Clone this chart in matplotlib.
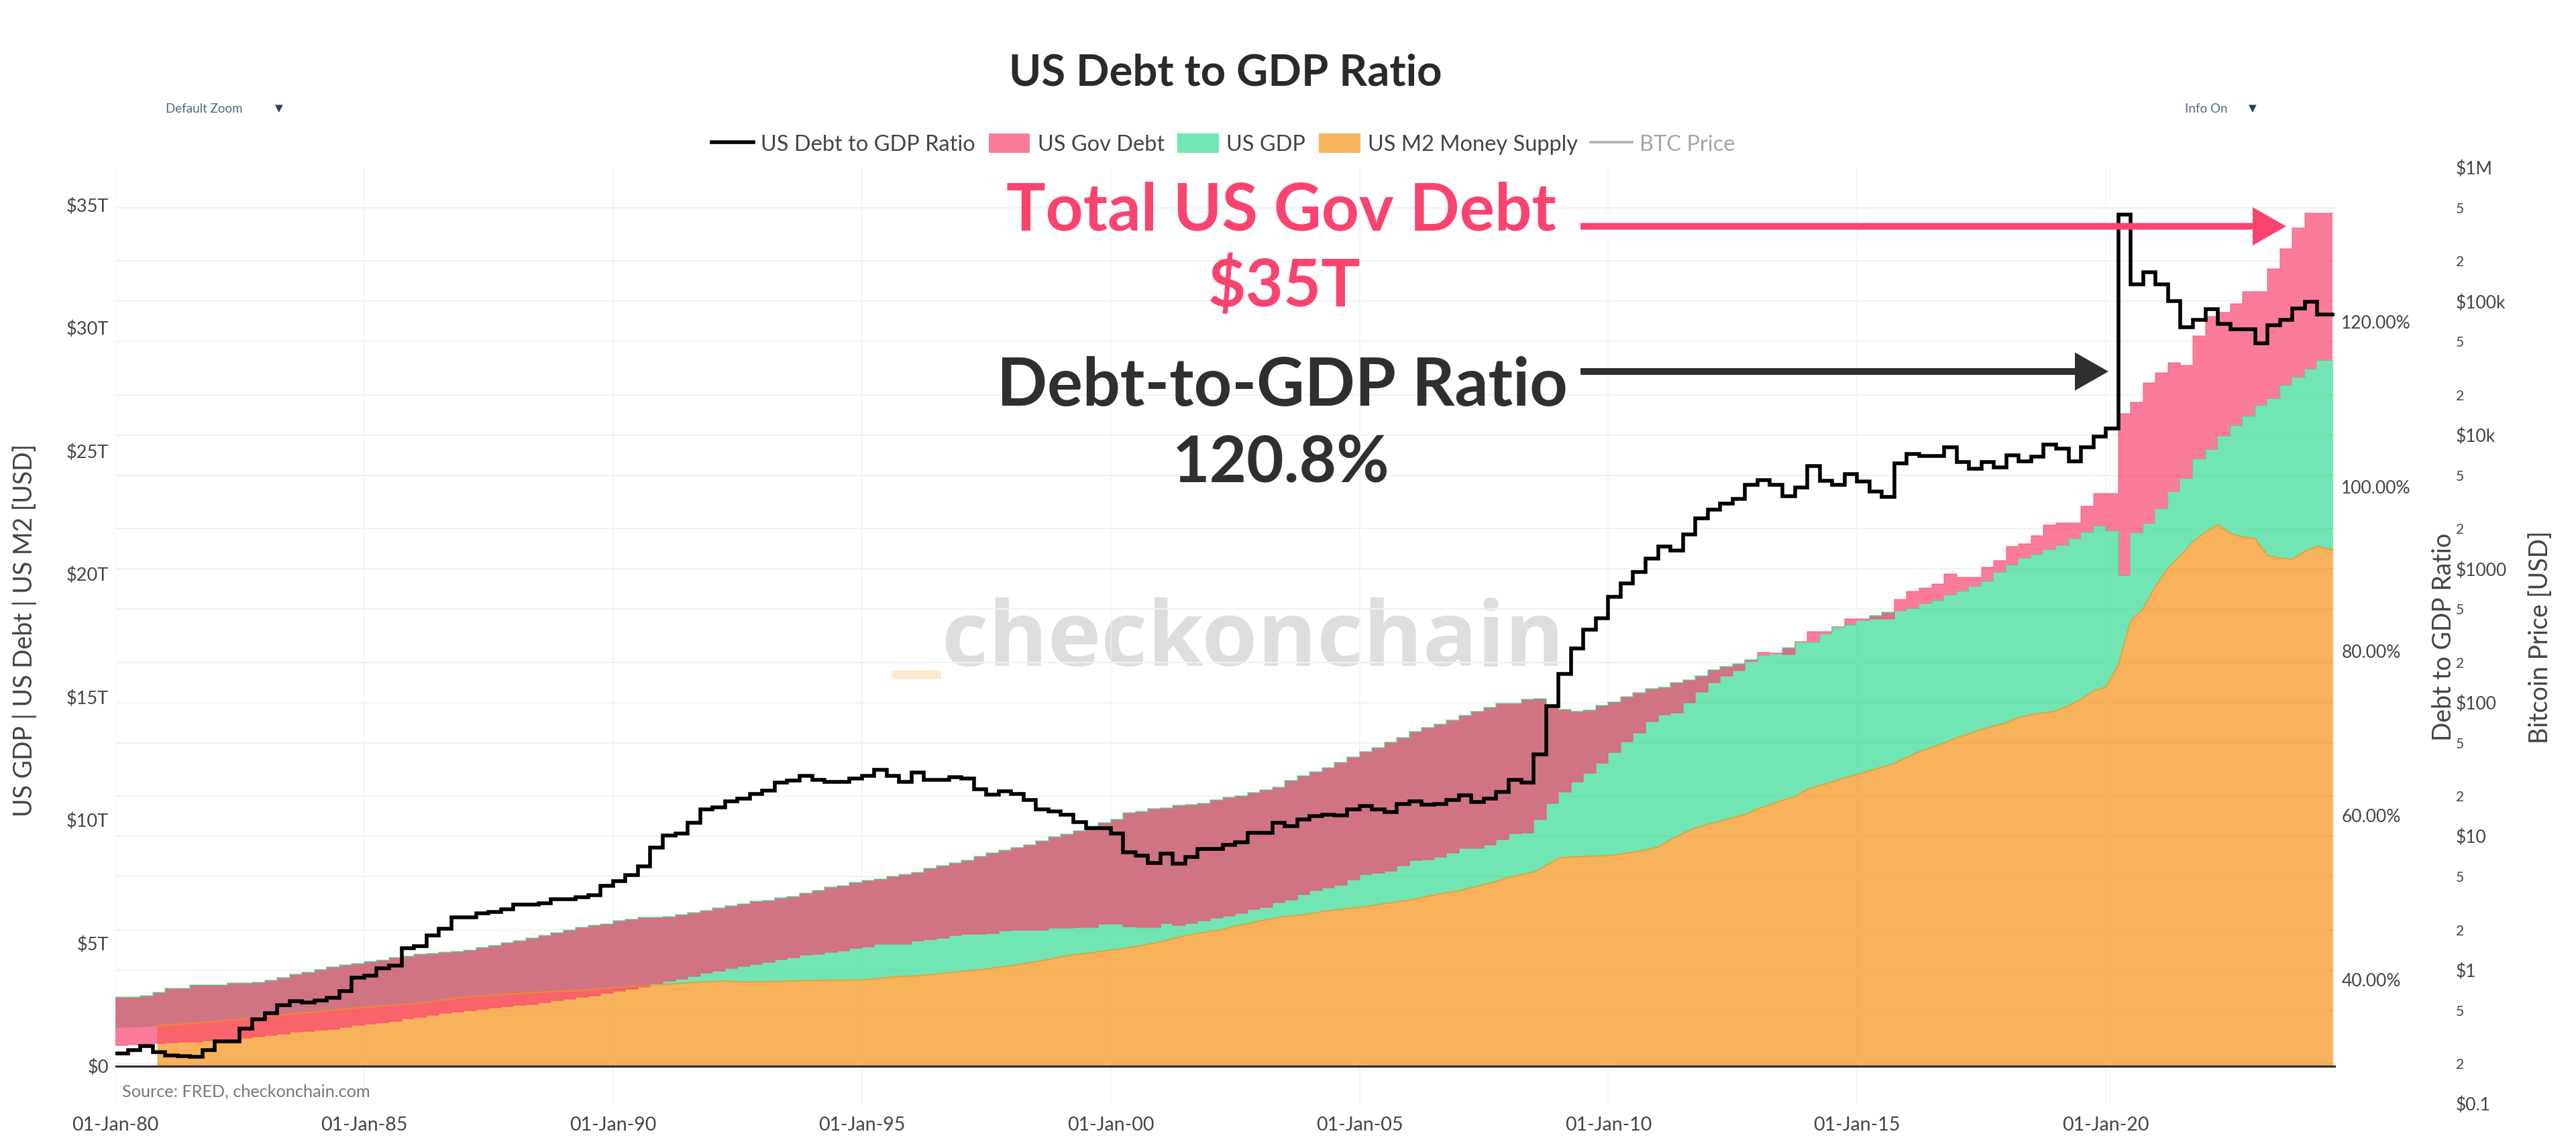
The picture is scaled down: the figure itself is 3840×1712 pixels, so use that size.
import numpy as np
import matplotlib
matplotlib.use("Agg")
import matplotlib.pyplot as plt
from matplotlib.patches import FancyArrow, Patch, Rectangle
from matplotlib.lines import Line2D

plt.rcParams['font.family'] = ['Lato', 'DejaVu Sans']

# ---- data: quarterly from Q1 1980 to Q2 2024 -----------------------------
ratio_pct = [
    31.0,31.4,31.9,31.2, 30.8,30.7,30.65,31.4, 32.5,32.5,34.0,35.2, 35.9,36.9,37.4,37.2,
    37.5,37.8,38.6,40.2, 40.5,41.4,41.7,43.8, 44.1,45.4,46.2,47.6, 47.6,48.1,48.2,48.6,
    49.1,49.1,49.3,49.8, 49.8,50.0,50.3,51.4, 52.0,52.7,53.8,56.1, 57.5,57.8,59.1,60.7,
    61.0,61.7,62.0,62.6, 63.0,64.0,64.2,64.8, 64.3,64.1,64.1,64.5, 64.8,65.5,64.8,64.1,
    65.2,64.3,64.3,64.6, 64.5,63.2,62.5,62.9, 62.6,61.9,60.7,60.5, 60.1,59.2,58.4,58.4,
    57.8,55.5,55.1,54.2, 55.3,54.1,54.9,55.9, 55.9,56.4,56.7,57.9, 57.9,59.1,58.7,59.5,
    59.9,60.1,60.0,60.7, 61.1,60.7,60.4,61.4, 61.7,61.3,61.4,61.9, 62.4,61.6,62.0,62.8,
    64.3,64.0,67.4,73.3, 77.2,80.3,82.6,84.0, 86.6,88.2,89.6,91.2, 92.7,92.2,94.2,96.1,
    97.2,97.9,98.5,100.2, 100.8,100.2,98.8,99.9, 102.5,100.7,100.2,101.5, 100.6,99.4,98.7,102.8,
    104.0,103.7,103.7,104.8, 103.0,102.2,103.0,102.3, 103.8,103.1,103.6,105.1, 104.6,103.1,104.8,106.1,
    107.1,133.1,124.6,126.1, 124.6,122.6,119.4,120.3, 121.6,119.8,119.1,119.1, 117.4,119.6,120.3,121.7,
    122.5,120.9]
gov_debt_t = [
    0.84,0.87,0.89,0.92, 0.95,0.97,0.99,1.04, 1.06,1.09,1.14,1.20, 1.24,1.32,1.38,1.41,
    1.46,1.51,1.57,1.65, 1.71,1.77,1.82,1.94, 1.98,2.06,2.14,2.22, 2.25,2.32,2.36,2.43,
    2.49,2.52,2.60,2.66, 2.73,2.80,2.86,2.97, 3.05,3.13,3.22,3.36, 3.45,3.54,3.66,3.80,
    3.88,3.98,4.05,4.15, 4.22,4.32,4.42,4.52, 4.55,4.63,4.68,4.79, 4.86,4.95,4.96,4.97,
    5.10,5.15,5.21,5.31, 5.38,5.38,5.40,5.49, 5.52,5.52,5.52,5.60, 5.62,5.63,5.65,5.77,
    5.77,5.68,5.65,5.65, 5.79,5.72,5.79,5.92, 6.01,6.11,6.22,6.38, 6.45,6.66,6.77,6.98,
    7.13,7.25,7.36,7.58, 7.79,7.85,7.93,8.16, 8.36,8.39,8.50,8.67, 8.86,8.86,8.99,9.22,
    9.45,9.49,10.04,10.69, 11.13,11.54,11.92,12.31, 12.76,13.19,13.55,14.00, 14.28,14.36,14.78,15.21,
    15.59,15.86,16.07,16.46, 16.80,16.78,16.74,17.26, 17.66,17.66,17.85,18.18, 18.18,18.17,18.17,18.96,
    19.29,19.43,19.60,20.01, 19.87,19.87,20.27,20.53, 21.12,21.23,21.55,22.00, 22.07,22.07,22.75,23.27,
    23.27,26.51,26.98,27.77, 28.17,28.58,28.47,29.67, 30.46,30.63,30.98,31.47, 31.47,32.40,33.20,34.06,
    34.66,34.66]
gdp_t = [
    2.80,2.80,2.86,3.00, 3.16,3.17,3.30,3.30, 3.31,3.37,3.38,3.41, 3.50,3.59,3.73,3.81,
    3.93,4.02,4.11,4.17, 4.24,4.30,4.41,4.46, 4.54,4.58,4.63,4.66, 4.72,4.82,4.90,5.01,
    5.09,5.20,5.30,5.42, 5.52,5.65,5.72,5.77, 5.91,5.98,6.04,6.06, 6.07,6.16,6.24,6.31,
    6.42,6.51,6.60,6.70, 6.74,6.84,6.90,7.03, 7.14,7.27,7.33,7.47, 7.54,7.60,7.70,7.78,
    7.87,8.03,8.14,8.26, 8.36,8.52,8.67,8.77, 8.87,8.99,9.15,9.31, 9.42,9.56,9.75,9.90,
    10.03,10.29,10.34,10.46, 10.49,10.61,10.63,10.68, 10.82,10.92,10.99,11.11, 11.22,11.34,11.60,11.81,
    11.96,12.13,12.34,12.56, 12.78,12.94,13.17,13.35, 13.60,13.76,13.90,14.06, 14.25,14.42,14.58,14.74,
    14.74,14.91,14.93,14.60, 14.49,14.42,14.47,14.67, 14.80,15.01,15.17,15.35, 15.40,15.58,15.69,15.85,
    16.10,16.24,16.35,16.50, 16.68,16.72,16.99,17.22, 17.23,17.55,17.84,17.94, 18.09,18.30,18.44,18.46,
    18.58,18.76,18.92,19.12, 19.30,19.48,19.71,20.05, 20.36,20.62,20.80,20.98, 21.13,21.41,21.70,21.93,
    21.75,19.92,21.66,22.04, 22.65,23.32,23.87,24.66, 25.03,25.58,26.03,26.41, 26.84,27.11,27.66,27.99,
    28.31,28.66]
m2_t = [
    1.57,1.58,1.60,1.63, 1.66,1.70,1.73,1.77, 1.82,1.86,1.90,1.95, 2.02,2.07,2.12,2.16,
    2.20,2.25,2.30,2.35, 2.39,2.43,2.47,2.50, 2.53,2.60,2.66,2.74, 2.81,2.84,2.87,2.91,
    2.94,2.97,3.00,3.03, 3.05,3.06,3.10,3.15, 3.19,3.23,3.26,3.27, 3.31,3.35,3.38,3.41,
    3.44,3.46,3.43,3.42, 3.43,3.44,3.45,3.47, 3.48,3.49,3.49,3.49, 3.51,3.54,3.60,3.64,
    3.66,3.70,3.74,3.80, 3.84,3.89,3.95,4.02, 4.08,4.16,4.25,4.33, 4.45,4.52,4.58,4.65,
    4.72,4.78,4.86,4.95, 5.05,5.18,5.30,5.40, 5.47,5.55,5.70,5.78, 5.90,6.00,6.08,6.12,
    6.18,6.28,6.34,6.40, 6.45,6.52,6.60,6.68, 6.75,6.85,6.95,7.05, 7.12,7.25,7.38,7.50,
    7.68,7.78,7.88,8.15, 8.45,8.50,8.52,8.54, 8.56,8.62,8.70,8.78, 8.90,9.20,9.45,9.68,
    9.82,9.95,10.10,10.22, 10.45,10.62,10.80,10.95, 11.25,11.40,11.55,11.72, 11.85,12.00,12.15,12.30,
    12.55,12.78,12.95,13.12, 13.35,13.50,13.68,13.82, 13.95,14.17,14.28,14.35, 14.43,14.65,14.90,15.25,
    15.40,16.30,18.10,18.60, 19.50,20.25,20.75,21.30, 21.70,22.00,21.65,21.50, 21.44,20.75,20.65,20.60,
    20.92,21.12,20.98]
year_ticks = [1980,1985,1990,1995,2000,2005,2010,2015,2020]
year_labels = ['01-Jan-80','01-Jan-85','01-Jan-90','01-Jan-95','01-Jan-00',
               '01-Jan-05','01-Jan-10','01-Jan-15','01-Jan-20']
usd_ticks = [0,5,10,15,20,25,30,35]
usd_labels = ['$0','$5T','$10T','$15T','$20T','$25T','$30T','$35T']
ratio_ticks = [40,60,80,100,120]
ratio_labels = ['40.00%','60.00%','80.00%','100.00%','120.00%']
btc_ticks = [0.1,0.2,0.5,1,2,5,10,20,50,100,200,500,1000,2000,5000,1e4,2e4,5e4,1e5,2e5,5e5,1e6]
btc_labels = ['$0.1','2','5','$1','2','5','$10','2','5','$100','2','5','$1000','2','5',
              '$10k','2','5','$100k','2','5','$1M']

W, H = 3840, 1712
L, R, T, B = 172, 3482, 250, 1646
def fx(x): return x / W
def fy(y): return 1 - y / H

C_PINK, C_GREEN, C_ORANGE = '#F9446F', '#36DA95', '#F69216'
C_TEXT, C_DARK, C_GRID = '#444444', '#2F2F2F', '#F2F2F2'

fig = plt.figure(figsize=(W/100, H/100), dpi=100, facecolor='white')
rect = [fx(L), fy(B), (R-L)/W, (B-T)/H]
ax3 = fig.add_axes(rect)                 # bitcoin log axis, carries horizontal grid
ax = fig.add_axes(rect, sharex=ax3)      # USD areas
ax2 = fig.add_axes(rect, sharex=ax3)     # ratio line
ax3.set_zorder(0); ax.set_zorder(1); ax2.set_zorder(2)
for a in (ax, ax2):
    a.patch.set_visible(False)
for a in (ax, ax2, ax3):
    for s in a.spines.values():
        s.set_visible(False)

# scales
xmax = 1980 + (R - L) / 74.18
ax3.set_xlim(1980, xmax)
ax.set_ylim(-1.526, 36.51)
ax2.set_ylim(24.9, 138.8)
ax3.set_yscale('log'); ax3.set_ylim(0.1, 1e6)

# stepped quarterly geometry
n = len(gdp_t)
edges = 1980 + np.arange(n + 1) / 4
edges[-1] = 2024.56
xs = np.repeat(edges, 2)[1:-1]
gdp_s = np.repeat(gdp_t, 2)
debt_s = np.repeat(gov_debt_t, 2)
ratio_s = np.repeat(ratio_pct, 2)
m2_x = np.r_[1980 + np.arange(n) / 4, 2024.56]
m2_s = np.interp(xs, m2_x, m2_t)
m2_start = 1980.835
xo = np.r_[m2_start, xs[xs > m2_start]]
m2_o = np.interp(xo, m2_x, m2_t)

# areas
ax.fill_between(xo, 0, m2_o, color=C_ORANGE, alpha=0.7, lw=0, zorder=2)
ax.fill_between(xs, m2_s, gdp_s, color=C_GREEN, alpha=0.7, lw=0, zorder=3)
ax.fill_between(xs, debt_s, gdp_s, color=C_PINK, alpha=0.7, lw=0, zorder=4)
ax.plot(xs, gdp_s, color=C_GREEN, alpha=0.6, lw=1.3, zorder=5)
ax.plot(xs, debt_s, color=C_PINK, alpha=0.45, lw=1.3, zorder=5)
ax.plot(xo, m2_o, color=C_ORANGE, alpha=0.7, lw=1.5, zorder=5)
ax.axhline(0, color=C_DARK, lw=2.3, zorder=6)

# ratio line
ax2.plot(xs, ratio_s, color='black', lw=4.0, solid_joinstyle='miter', zorder=5)

# grids
ax.set_axisbelow(True)
ax.grid(True, axis='x', color=C_GRID, lw=1.1)
ax.grid(False, axis='y')
ax2.grid(False)
ax3.grid(True, axis='y', which='major', color=C_GRID, lw=1.5)
ax3.grid(False, axis='x')

# ticks
ax.set_xticks(year_ticks)
ax.set_xticklabels(year_labels, fontsize=20.5, color=C_TEXT)
ax.tick_params(axis='x', length=0, pad=14)
ax3.tick_params(axis='x', labelbottom=False, length=0)
ax2.tick_params(axis='x', labelbottom=False, length=0)
ax.set_yticks(usd_ticks)
ax.set_yticklabels(usd_labels, fontsize=19.5, color=C_TEXT)
ax.tick_params(axis='y', length=0, pad=7)
ax2.yaxis.tick_right()
ax2.set_yticks(ratio_ticks)
ax2.set_yticklabels(ratio_labels, fontsize=19, color=C_TEXT)
ax2.tick_params(axis='y', length=0, pad=6)
ax3.yaxis.tick_right()
ax3.set_yticks(btc_ticks)
ax3.set_yticklabels(btc_labels, color=C_TEXT)
ax3.minorticks_off()
ax3.tick_params(axis='y', length=0, pad=129)
for lab, txt in zip(ax3.get_yticklabels(), btc_labels):
    lab.set_fontsize(19 if txt.startswith('$') else 15)
ygl = ax3.get_ygridlines()
ygl[0].set_visible(False); ygl[-1].set_visible(False)

# watermark, beneath all data
ax3.text(fx(1868), fy(993), 'checkonchain', transform=fig.transFigure, ha='center', va='baseline',
         fontsize=97, fontweight='bold', color='#DEDEDE', family='Open Sans', zorder=1)
ax3.add_patch(Rectangle((fx(1330), fy(1013)), 73/W, 13/H, transform=fig.transFigure,
                        facecolor='#FEE9CF', edgecolor='none', clip_on=False, zorder=1))

# titles and labels
fig.text(fx(1827), fy(109), 'US Debt to GDP Ratio', ha='center', va='center',
         fontsize=47, fontweight='bold', color='#2A2A2A')
fig.text(fx(37), fy(940), 'US GDP | US Debt | US M2 [USD]', rotation=90, ha='center', va='center',
         fontsize=27, color=C_TEXT)
fig.text(fx(3643), fy(950), 'Debt to GDP Ratio', rotation=90, ha='center', va='center',
         fontsize=27, color=C_TEXT)
fig.text(fx(3787), fy(950), 'Bitcoin Price [USD]', rotation=90, ha='center', va='center',
         fontsize=27, color=C_TEXT)
fig.text(fx(182), fy(1628), 'Source: FRED, checkonchain.com', ha='left', va='center',
         fontsize=18.2, color='#777777')
fig.text(fx(247), fy(162), 'Default Zoom', ha='left', va='center', fontsize=13.5, color='#506784')
fig.text(fx(410), fy(162), '\u25BC', ha='left', va='center', fontsize=11, color='#2A3F5F',
         family='DejaVu Sans')
fig.text(fx(3257), fy(162), 'Info On', ha='left', va='center', fontsize=13.5, color='#506784')
fig.text(fx(3352), fy(162), '\u25BC', ha='left', va='center', fontsize=11, color='#2A3F5F',
         family='DejaVu Sans')

# callouts
fig.text(fx(1910), fy(315), 'Total US Gov Debt', ha='center', va='center', fontsize=70.4,
         fontweight='bold', color=C_PINK)
fig.text(fx(1915), fy(427), '$35T', ha='center', va='center', fontsize=70,
         fontweight='bold', color=C_PINK)
fig.text(fx(1911), fy(576), 'Debt-to-GDP Ratio', ha='center', va='center', fontsize=71,
         fontweight='bold', color=C_DARK)
fig.text(fx(1910), fy(691), '120.8%', ha='center', va='center', fontsize=69,
         fontweight='bold', color=C_DARK)
def arrow(x0, x1, y, color):
    fig.add_artist(FancyArrow(fx(x0), fy(y), fx(x1 - x0), 0, width=10/H, head_width=57/H,
                              head_length=50/W, length_includes_head=True, color=color, lw=0,
                              transform=fig.transFigure, zorder=10))
arrow(2356, 3408, 337.5, C_PINK)
arrow(2356, 3143, 554, C_DARK)

# legend
handles = [Line2D([], [], color='black', lw=4.0),
           Patch(facecolor='#FB7C9A', edgecolor='none'),
           Patch(facecolor='#72E5B5', edgecolor='none'),
           Patch(facecolor='#F9B35C', edgecolor='none'),
           Line2D([], [], color='#B5B5B5', lw=2.8)]
names = ['US Debt to GDP Ratio', 'US Gov Debt', 'US GDP', 'US M2 Money Supply', 'BTC Price']
leg = fig.legend(handles, names, loc='center', bbox_to_anchor=(fx(1824), fy(215)), ncol=5,
                 frameon=False, fontsize=23.4, handlelength=1.9, handleheight=1.0,
                 handletextpad=0.35, columnspacing=0.6, borderpad=0, labelcolor=C_TEXT)
leg.get_texts()[-1].set_color('#A6A6A6')

fig.savefig('out.png', dpi=100, facecolor='white')
